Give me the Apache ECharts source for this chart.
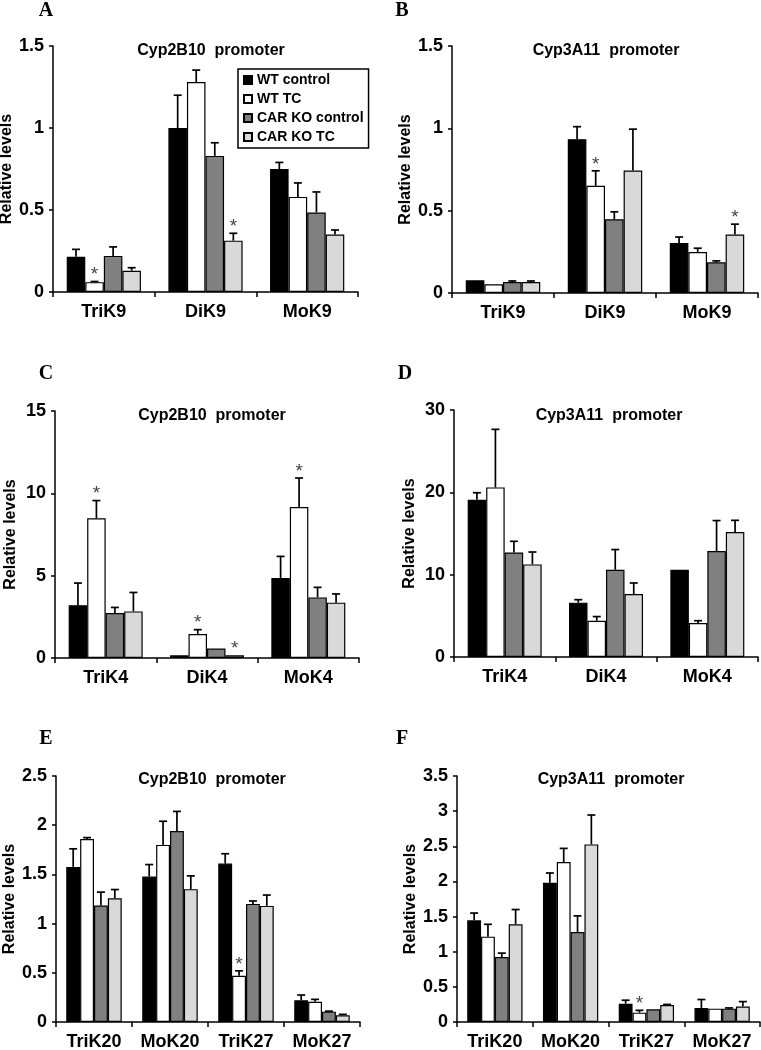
<!DOCTYPE html>
<html><head><meta charset="utf-8">
<script src="https://cdn.jsdelivr.net/npm/echarts@6/dist/echarts.min.js"></script>
<style>html,body{margin:0;padding:0;background:#fff}#c{width:761px;height:1050px}</style>
</head><body><div id="c"></div>
<script>
// ---------- data ----------
const seriesNames = ['WT control', 'WT TC', 'CAR KO control', 'CAR KO TC'];
const catsK9 = ['TriK9', 'DiK9', 'MoK9'];
const catsK4 = ['TriK4', 'DiK4', 'MoK4'];
const catsK20 = ['TriK20', 'MoK20', 'TriK27', 'MoK27'];

// values[series][category], errors[series][category], stars: [seriesIdx, catIdx]
const valsA = [[0.215, 1.00, 0.75], [0.06, 1.28, 0.58], [0.22, 0.83, 0.485], [0.13, 0.313, 0.35]];
const errsA = [[0.045, 0.20, 0.04], [0.004, 0.073, 0.085], [0.055, 0.08, 0.125], [0.018, 0.045, 0.028]];
const starsA = [[1, 0], [3, 1]];

const valsB = [[0.077, 0.934, 0.304], [0.053, 0.651, 0.249], [0.067, 0.448, 0.186], [0.067, 0.744, 0.355]];
const errsB = [[0, 0.076, 0.036], [0, 0.091, 0.023], [0.006, 0.045, 0.009], [0.006, 0.251, 0.063]];
const starsB = [[1, 1], [3, 2]];

const valsC = [[3.21, 0.16, 4.86], [8.49, 1.46, 9.17], [2.73, 0.57, 3.68], [2.83, 0.16, 3.36]];
const errsC = [[1.34, 0, 1.31], [1.07, 0.26, 1.76], [0.34, 0, 0.61], [1.15, 0, 0.53]];
const starsC = [[1, 0], [1, 1], [3, 1], [1, 2]];

const valsD = [[19.1, 6.6, 10.6], [20.6, 4.41, 4.13], [12.7, 10.6, 12.87], [11.25, 7.65, 15.18]];
const errsD = [[0.85, 0.36, 0], [7.05, 0.5, 0.28], [1.35, 2.45, 3.7], [1.5, 1.34, 1.42]];
const starsD = [];

const valsE = [[1.576, 1.478, 1.61, 0.22], [1.86, 1.80, 0.47, 0.206], [1.184, 1.94, 1.20, 0.105], [1.258, 1.35, 1.18, 0.068]];
const errsE = [[0.184, 0.122, 0.10, 0.054], [0.014, 0.24, 0.05, 0.024], [0.136, 0.20, 0.03, 0.005], [0.088, 0.135, 0.11, 0.01]];
const starsE = [[1, 2]];

const valsF = [[1.446, 1.98, 0.26, 0.2], [1.214, 2.276, 0.133, 0.19], [0.925, 1.28, 0.18, 0.19], [1.39, 2.527, 0.242, 0.22]];
const errsF = [[0.104, 0.14, 0.05, 0.12], [0.176, 0.194, 0.033, 0], [0.055, 0.23, 0, 0.01], [0.21, 0.418, 0.008, 0.07]];
const starsF = [[1, 2]];

// ---------- layout / style ----------
const FONT = 'Liberation Sans, Arial, sans-serif';
const colors = ['#000000', '#ffffff', '#808080', '#d9d9d9'];
const GAP = 0.27;

const panels = [
  {letter: 'A', title: 'Cyp2B10  promoter', cats: catsK9, vals: valsA, errs: errsA, stars: starsA, max: 1.5, interval: 0.5,
   grid: {left: 53, top: 46, width: 305, height: 246}, tx: 211, ty: 43, lx: 46, ly: 1},
  {letter: 'B', title: 'Cyp3A11  promoter', cats: catsK9, vals: valsB, errs: errsB, stars: starsB, max: 1.5, interval: 0.5,
   grid: {left: 452, top: 46, width: 306, height: 247}, tx: 606, ty: 43, lx: 402, ly: 1},
  {letter: 'C', title: 'Cyp2B10  promoter', cats: catsK4, vals: valsC, errs: errsC, stars: starsC, max: 15, interval: 5,
   grid: {left: 55, top: 411, width: 304, height: 247}, tx: 212, ty: 408, lx: 46, ly: 364},
  {letter: 'D', title: 'Cyp3A11  promoter', cats: catsK4, vals: valsD, errs: errsD, stars: starsD, max: 30, interval: 10,
   grid: {left: 454, top: 410, width: 304, height: 247}, tx: 609, ty: 408, lx: 405, ly: 364},
  {letter: 'E', title: 'Cyp2B10  promoter', cats: catsK20, vals: valsE, errs: errsE, stars: starsE, max: 2.5, interval: 0.5,
   grid: {left: 56, top: 776, width: 304, height: 246}, tx: 212, ty: 772, lx: 46, ly: 729},
  {letter: 'F', title: 'Cyp3A11  promoter', cats: catsK20, vals: valsF, errs: errsF, stars: starsF, max: 3.5, interval: 0.5,
   grid: {left: 457, top: 776, width: 303, height: 246}, tx: 611, ty: 772, lx: 402, ly: 729}
];

const grids = [], xAxes = [], yAxes = [], series = [], titles = [];

panels.forEach((p, pi) => {
  grids.push(Object.assign({outerBoundsMode: 'none', containLabel: false}, p.grid));
  xAxes.push({
    type: 'category', gridIndex: pi, data: p.cats,
    axisLine: {lineStyle: {color: '#000', width: 1.5}},
    axisTick: {show: true, length: 5, lineStyle: {color: '#000', width: 1.5}},
    axisLabel: {interval: 0, color: '#000', fontSize: 18, fontWeight: 'bold', fontFamily: FONT, margin: 11}
  });
  yAxes.push({
    type: 'value', gridIndex: pi, min: 0, max: p.max, interval: p.interval,
    name: 'Relative levels', nameLocation: 'middle', nameRotate: 90, nameGap: 36,
    nameTextStyle: {color: '#000', fontSize: 16, fontWeight: 'bold', fontFamily: FONT},
    axisLine: {show: true, lineStyle: {color: '#000', width: 1.5}},
    axisTick: {show: true, length: 4, lineStyle: {color: '#000', width: 1.5}},
    splitLine: {show: false},
    axisLabel: {color: '#000', fontSize: 18, fontWeight: 'bold', fontFamily: FONT, margin: 9}
  });
  titles.push({text: p.title, left: p.tx, top: p.ty, textAlign: 'center', padding: 0,
    textStyle: {color: '#000', fontSize: 16, fontWeight: 'bold', fontFamily: FONT}});
  titles.push({text: p.letter, left: p.lx, top: p.ly, textAlign: 'center', padding: 0,
    textStyle: {color: '#000', fontSize: 20, fontWeight: 'bold', fontFamily: 'Liberation Serif, Times New Roman, serif'}});

  seriesNames.forEach((name, si) => {
    series.push({
      type: 'bar', name: name, xAxisIndex: pi, yAxisIndex: pi, data: p.vals[si],
      barGap: '0%', barCategoryGap: (GAP * 100) + '%',
      itemStyle: {color: colors[si], borderColor: '#000', borderWidth: 1.2},
      emphasis: {disabled: true}
    });
  });

  const errData = [];
  p.vals.forEach((row, si) => row.forEach((v, ci) => {
    const star = p.stars.some(s => s[0] === si && s[1] === ci) ? 1 : 0;
    errData.push([ci, si, v, p.errs[si][ci], star]);
  }));
  series.push({
    type: 'custom', xAxisIndex: pi, yAxisIndex: pi, data: errData, z: 5,
    encode: {x: 0, y: 2}, silent: true,
    renderItem: function (params, api) {
      const ci = api.value(0), si = api.value(1), v = api.value(2), e = api.value(3), star = api.value(4);
      const base = api.coord([ci, v]);
      const top = api.coord([ci, v + e]);
      const catW = api.size([1, 0])[0];
      const barW = catW * (1 - GAP) / 4;
      const x = base[0] + (si - 1.5) * barW;
      const children = [];
      if (e > 0) {
        children.push({type: 'line', shape: {x1: x, y1: base[1], x2: x, y2: top[1]},
          style: {stroke: '#000', lineWidth: 1.7}});
        children.push({type: 'line', shape: {x1: x - 4, y1: top[1], x2: x + 4, y2: top[1]},
          style: {stroke: '#000', lineWidth: 1.7}});
      }
      if (star) {
        children.push({type: 'text', x: x, y: top[1] + 3,
          style: {text: '*', fill: '#444', font: '19px ' + FONT, align: 'center', verticalAlign: 'bottom',
                  textAlign: 'center', textVerticalAlign: 'bottom'}});
      }
      return {type: 'group', children: children};
    }
  });
});

const chart = echarts.init(document.getElementById('c'), null, {renderer: 'canvas'});
chart.setOption({
  animation: false,
  backgroundColor: '#fff',
  title: titles,
  legend: {
    data: seriesNames, orient: 'vertical', left: 238, top: 69,
    itemWidth: 8, itemHeight: 8, itemGap: 5, icon: 'rect', selectedMode: false,
    borderColor: '#000', borderWidth: 1.5, padding: [4, 5, 4, 5],
    textStyle: {color: '#000', fontSize: 14, fontWeight: 'bold', fontFamily: FONT}
  },
  grid: grids, xAxis: xAxes, yAxis: yAxes, series: series
});
</script></body></html>
